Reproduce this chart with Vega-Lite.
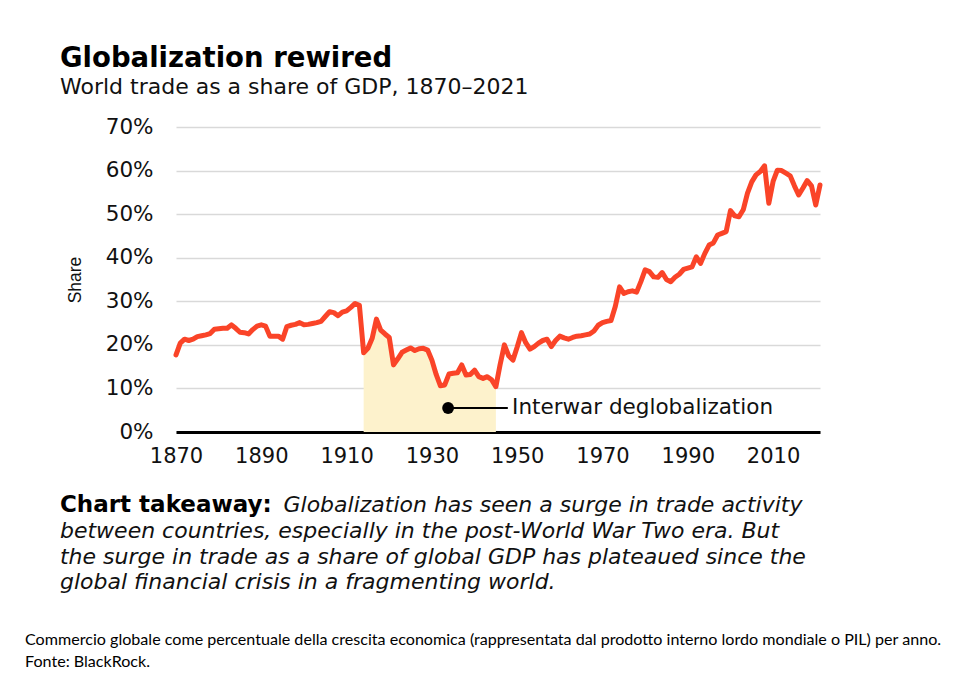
{
  "$schema": "https://vega.github.io/schema/vega-lite/v6.json",
  "width": 644,
  "height": 305,
  "autosize": {"type": "none"},
  "padding": {"left": 176, "top": 127, "right": 148, "bottom": 252},
  "background": "white",
  "title": {
    "text": "Globalization rewired",
    "subtitle": "World trade as a share of GDP, 1870–2021",
    "anchor": "start",
    "frame": "group",
    "dx": -116,
    "offset": 18,
    "font": "DejaVu Sans",
    "fontSize": 27.5,
    "fontWeight": "bold",
    "color": "#000",
    "subtitleFont": "DejaVu Sans",
    "subtitleFontSize": 22,
    "subtitleColor": "#111",
    "subtitlePadding": 5
  },
  "config": {"view": {"stroke": null}},
  "data": {
    "values": [
      {"year": 1870, "share": 17.7}, {"year": 1871, "share": 20.4}, {"year": 1872, "share": 21.3}, {"year": 1873, "share": 21.0},
      {"year": 1874, "share": 21.3}, {"year": 1875, "share": 21.9}, {"year": 1876, "share": 22.1}, {"year": 1877, "share": 22.3},
      {"year": 1878, "share": 22.6}, {"year": 1879, "share": 23.6}, {"year": 1880, "share": 23.7}, {"year": 1881, "share": 23.8},
      {"year": 1882, "share": 23.8}, {"year": 1883, "share": 24.6}, {"year": 1884, "share": 23.8}, {"year": 1885, "share": 22.9},
      {"year": 1886, "share": 22.8}, {"year": 1887, "share": 22.5}, {"year": 1888, "share": 23.5}, {"year": 1889, "share": 24.3},
      {"year": 1890, "share": 24.6}, {"year": 1891, "share": 24.3}, {"year": 1892, "share": 22.0}, {"year": 1893, "share": 22.0},
      {"year": 1894, "share": 22.0}, {"year": 1895, "share": 21.3}, {"year": 1896, "share": 24.2}, {"year": 1897, "share": 24.5},
      {"year": 1898, "share": 24.7}, {"year": 1899, "share": 25.1}, {"year": 1900, "share": 24.6}, {"year": 1901, "share": 24.7},
      {"year": 1902, "share": 24.9}, {"year": 1903, "share": 25.1}, {"year": 1904, "share": 25.4}, {"year": 1905, "share": 26.5},
      {"year": 1906, "share": 27.6}, {"year": 1907, "share": 27.4}, {"year": 1908, "share": 26.7}, {"year": 1909, "share": 27.5},
      {"year": 1910, "share": 27.8}, {"year": 1911, "share": 28.6}, {"year": 1912, "share": 29.5}, {"year": 1913, "share": 29.1},
      {"year": 1914, "share": 18.2}, {"year": 1915, "share": 19.2}, {"year": 1916, "share": 21.5}, {"year": 1917, "share": 25.9},
      {"year": 1918, "share": 23.4}, {"year": 1919, "share": 22.5}, {"year": 1920, "share": 21.7}, {"year": 1921, "share": 15.4},
      {"year": 1922, "share": 16.8}, {"year": 1923, "share": 18.3}, {"year": 1924, "share": 18.8}, {"year": 1925, "share": 19.3},
      {"year": 1926, "share": 18.7}, {"year": 1927, "share": 19.1}, {"year": 1928, "share": 19.2}, {"year": 1929, "share": 18.8},
      {"year": 1930, "share": 16.5}, {"year": 1931, "share": 13.2}, {"year": 1932, "share": 10.6}, {"year": 1933, "share": 10.8},
      {"year": 1934, "share": 13.3}, {"year": 1935, "share": 13.5}, {"year": 1936, "share": 13.6}, {"year": 1937, "share": 15.4},
      {"year": 1938, "share": 13.1}, {"year": 1939, "share": 13.2}, {"year": 1940, "share": 14.2}, {"year": 1941, "share": 12.7},
      {"year": 1942, "share": 12.3}, {"year": 1943, "share": 12.7}, {"year": 1944, "share": 12.0}, {"year": 1945, "share": 10.4},
      {"year": 1946, "share": 15.5}, {"year": 1947, "share": 20.0}, {"year": 1948, "share": 17.5}, {"year": 1949, "share": 16.5},
      {"year": 1950, "share": 19.5}, {"year": 1951, "share": 22.8}, {"year": 1952, "share": 20.5}, {"year": 1953, "share": 19.0},
      {"year": 1954, "share": 19.6}, {"year": 1955, "share": 20.4}, {"year": 1956, "share": 21.0}, {"year": 1957, "share": 21.3},
      {"year": 1958, "share": 19.6}, {"year": 1959, "share": 21.0}, {"year": 1960, "share": 22.0}, {"year": 1961, "share": 21.6},
      {"year": 1962, "share": 21.3}, {"year": 1963, "share": 21.7}, {"year": 1964, "share": 22.0}, {"year": 1965, "share": 22.1},
      {"year": 1966, "share": 22.3}, {"year": 1967, "share": 22.5}, {"year": 1968, "share": 23.2}, {"year": 1969, "share": 24.5},
      {"year": 1970, "share": 25.1}, {"year": 1971, "share": 25.4}, {"year": 1972, "share": 25.6}, {"year": 1973, "share": 28.8},
      {"year": 1974, "share": 33.3}, {"year": 1975, "share": 31.8}, {"year": 1976, "share": 32.2}, {"year": 1977, "share": 32.4},
      {"year": 1978, "share": 32.1}, {"year": 1979, "share": 34.5}, {"year": 1980, "share": 37.2}, {"year": 1981, "share": 36.8},
      {"year": 1982, "share": 35.6}, {"year": 1983, "share": 35.5}, {"year": 1984, "share": 36.6}, {"year": 1985, "share": 35.0},
      {"year": 1986, "share": 34.5}, {"year": 1987, "share": 35.5}, {"year": 1988, "share": 36.2}, {"year": 1989, "share": 37.3},
      {"year": 1990, "share": 37.6}, {"year": 1991, "share": 37.9}, {"year": 1992, "share": 40.2}, {"year": 1993, "share": 38.7},
      {"year": 1994, "share": 41.0}, {"year": 1995, "share": 42.9}, {"year": 1996, "share": 43.4}, {"year": 1997, "share": 45.2},
      {"year": 1998, "share": 45.6}, {"year": 1999, "share": 46.0}, {"year": 2000, "share": 50.8}, {"year": 2001, "share": 49.6},
      {"year": 2002, "share": 49.4}, {"year": 2003, "share": 51.0}, {"year": 2004, "share": 54.8}, {"year": 2005, "share": 57.4},
      {"year": 2006, "share": 59.0}, {"year": 2007, "share": 59.8}, {"year": 2008, "share": 61.1}, {"year": 2009, "share": 52.5},
      {"year": 2010, "share": 57.5}, {"year": 2011, "share": 60.1}, {"year": 2012, "share": 60.0}, {"year": 2013, "share": 59.4},
      {"year": 2014, "share": 58.8}, {"year": 2015, "share": 56.5}, {"year": 2016, "share": 54.4}, {"year": 2017, "share": 56.0},
      {"year": 2018, "share": 57.7}, {"year": 2019, "share": 56.5}, {"year": 2020, "share": 52.1}, {"year": 2021, "share": 56.7}
    ]
  },
  "layer": [
    {
      "transform": [{"filter": "datum.year >= 1914 && datum.year <= 1945"}],
      "mark": {"type": "area", "color": "#fdf2cc", "opacity": 1},
      "encoding": {
        "x": {"field": "year", "type": "quantitative", "scale": {"domain": [1870, 2021], "nice": false, "zero": false}},
        "y": {"field": "share", "type": "quantitative", "scale": {"domain": [0, 70], "nice": false}}
      }
    },
    {
      "mark": {"type": "line", "color": "#fa4428", "strokeWidth": 5, "strokeJoin": "round", "strokeCap": "round"},
      "encoding": {
        "x": {
          "field": "year",
          "type": "quantitative",
          "scale": {"domain": [1870, 2021], "nice": false, "zero": false},
          "axis": {
            "title": null,
            "values": [1870, 1890, 1910, 1930, 1950, 1970, 1990, 2010],
            "format": "d",
            "grid": false,
            "ticks": false,
            "tickSize": 0,
            "domain": true,
            "domainColor": "#000",
            "domainWidth": 3,
            "labelFont": "DejaVu Sans",
            "labelFontSize": 21,
            "labelColor": "#111",
            "labelPadding": 13,
            "labelFlush": false
          }
        },
        "y": {
          "field": "share",
          "type": "quantitative",
          "scale": {"domain": [0, 70], "nice": false},
          "axis": {
            "title": "Share",
            "values": [0, 10, 20, 30, 40, 50, 60, 70],
            "labelExpr": "datum.value + '%'",
            "domain": false,
            "ticks": false,
            "tickSize": 0,
            "grid": true,
            "gridColor": "#d9d9d9",
            "gridWidth": 1.5,
            "labelFont": "DejaVu Sans",
            "labelFontSize": 21.5,
            "labelColor": "#111",
            "labelPadding": 23,
            "titleFont": "Liberation Sans",
            "titleFontSize": 17.5,
            "titleFontWeight": "normal",
            "titleColor": "#111",
            "titlePadding": 21
          }
        }
      }
    },
    {
      "data": {"values": [{}]},
      "mark": {"type": "rule", "color": "#000", "strokeWidth": 2},
      "encoding": {
        "x": {"datum": 1933.8, "type": "quantitative"},
        "x2": {"datum": 1947.8},
        "y": {"datum": 5.5, "type": "quantitative"}
      }
    },
    {
      "data": {"values": [{}]},
      "mark": {"type": "circle", "color": "#000", "size": 140, "opacity": 1},
      "encoding": {
        "x": {"datum": 1933.8, "type": "quantitative"},
        "y": {"datum": 5.5, "type": "quantitative"}
      }
    },
    {
      "data": {"values": [{}]},
      "mark": {"type": "text", "align": "left", "baseline": "middle", "font": "DejaVu Sans", "fontSize": 21.5, "color": "#111"},
      "encoding": {
        "x": {"datum": 1948.8, "type": "quantitative"},
        "y": {"datum": 5.5, "type": "quantitative"},
        "text": {"value": "Interwar deglobalization"}
      }
    },
    {
      "data": {"values": [{}]},
      "mark": {"type": "text", "align": "left", "baseline": "alphabetic", "font": "DejaVu Sans", "fontSize": 23, "fontWeight": "bold", "color": "#000"},
      "encoding": {
        "x": {"datum": 1842.8, "type": "quantitative"},
        "y": {"datum": -18.4, "type": "quantitative"},
        "text": {"value": "Chart takeaway:"}
      }
    },
    {
      "data": {"values": [{}]},
      "mark": {"type": "text", "align": "left", "baseline": "alphabetic", "font": "DejaVu Sans", "fontSize": 22, "fontStyle": "italic", "color": "#111"},
      "encoding": {
        "x": {"datum": 1895.2, "type": "quantitative"},
        "y": {"datum": -18.4, "type": "quantitative"},
        "text": {"value": "Globalization has seen a surge in trade activity"}
      }
    },
    {
      "data": {"values": [{}]},
      "mark": {"type": "text", "align": "left", "baseline": "alphabetic", "font": "DejaVu Sans", "fontSize": 22, "fontStyle": "italic", "color": "#111", "lineHeight": 25.3},
      "encoding": {
        "x": {"datum": 1842.8, "type": "quantitative"},
        "y": {"datum": -24.4, "type": "quantitative"},
        "text": {"value": [
          "between countries, especially in the post-World War Two era. But",
          "the surge in trade as a share of global GDP has plateaued since the",
          "global financial crisis in a fragmenting world."
        ]}
      }
    },
    {
      "data": {"values": [{}]},
      "mark": {"type": "text", "align": "left", "baseline": "alphabetic", "font": "Lato", "fontSize": 16.1, "color": "#000", "lineHeight": 22},
      "encoding": {
        "x": {"datum": 1834.6, "type": "quantitative"},
        "y": {"datum": -48.9, "type": "quantitative"},
        "text": {"value": [
          "Commercio globale come percentuale della crescita economica (rappresentata dal prodotto interno lordo mondiale o PIL) per anno.",
          "Fonte: BlackRock."
        ]}
      }
    }
  ]
}
